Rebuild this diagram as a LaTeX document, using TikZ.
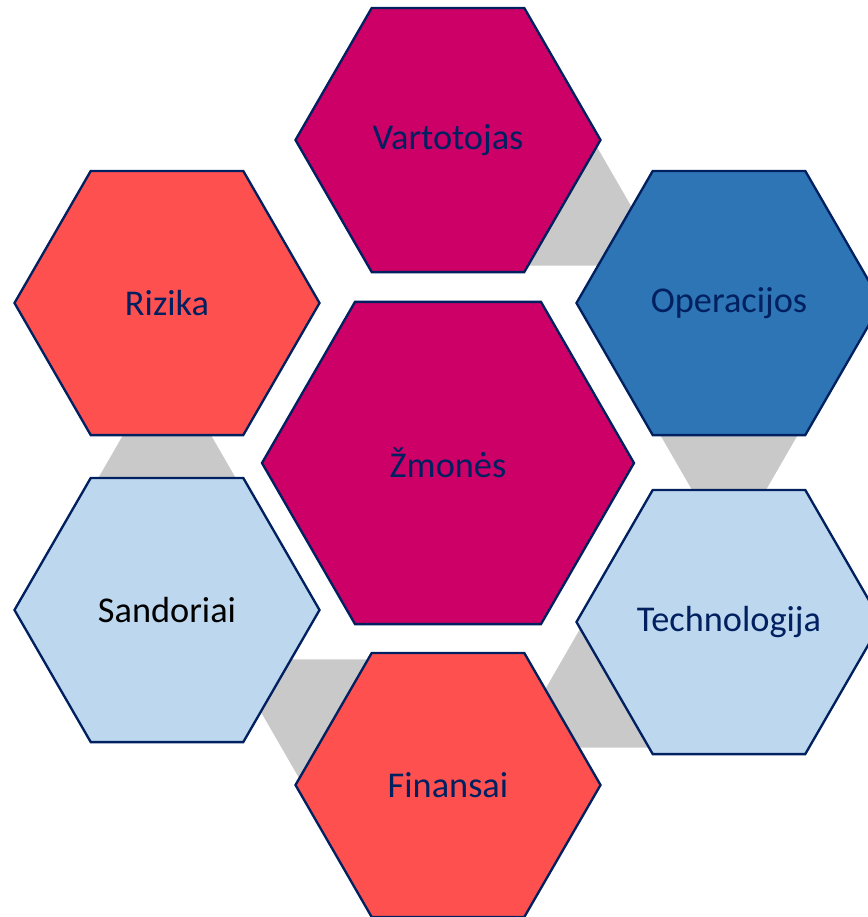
\documentclass[tikz,border=0pt]{standalone}
\usepackage{fontspec}
\setmainfont{Carlito}
\usetikzlibrary{shapes.geometric,calc,backgrounds}
\definecolor{hexmagenta}{RGB}{204,0,102}
\definecolor{hexred}{RGB}{255,80,80}
\definecolor{hexblue}{RGB}{46,117,182}
\definecolor{hexlight}{RGB}{189,215,238}
\definecolor{hexline}{RGB}{0,32,96}
\definecolor{linkgray}{RGB}{201,201,201}
\tikzset{
  hexa/.style={regular polygon, regular polygon sides=6, draw=hexline, line width=2pt,
    minimum size=9.15cm, inner sep=0pt, text=hexline, font=\fontsize{31}{36}\selectfont},
  hexbig/.style={hexa, minimum size=11.16cm},
}

\begin{document}
\begin{tikzpicture}[x=0.03cm, y=-0.03cm]
  \useasboundingbox (0,0) rectangle (868,917);
  \clip (0,0) rectangle (868,917);
  % hexagons
  \node[hexa, fill=hexmagenta] (vart) at (448,140) {Vartotojas};
  \node[hexa, fill=hexred] (riz) at (167,303) {Rizika};
  \node[hexa, fill=hexblue] (oper) at (729,303) {Operacijos};
  \node[hexbig, fill=hexmagenta] (zmon) at (448,463) {Žmonės};
  \node[hexa, fill=hexlight, text=black] (sand) at (167,610) {Sandoriai};
  \node[hexa, fill=hexlight] (tech) at (729,622) {Technologija};
  \node[hexa, fill=hexred] (fin) at (448,785) {Finansai};
  % grey links behind, pointing from one hexagon to the next
  \begin{pgfonlayer}{background}
    \foreach \from/\ang in {vart/-30, oper/-90, tech/-150, fin/150, sand/90}
      \fill[linkgray] ($(\from.center)+(\ang+90:4.35cm)$) -- ($(\from.center)+(\ang:7.53cm)$)
        -- ($(\from.center)+(\ang-90:4.35cm)$) -- cycle;
  \end{pgfonlayer}
\end{tikzpicture}
\end{document}
